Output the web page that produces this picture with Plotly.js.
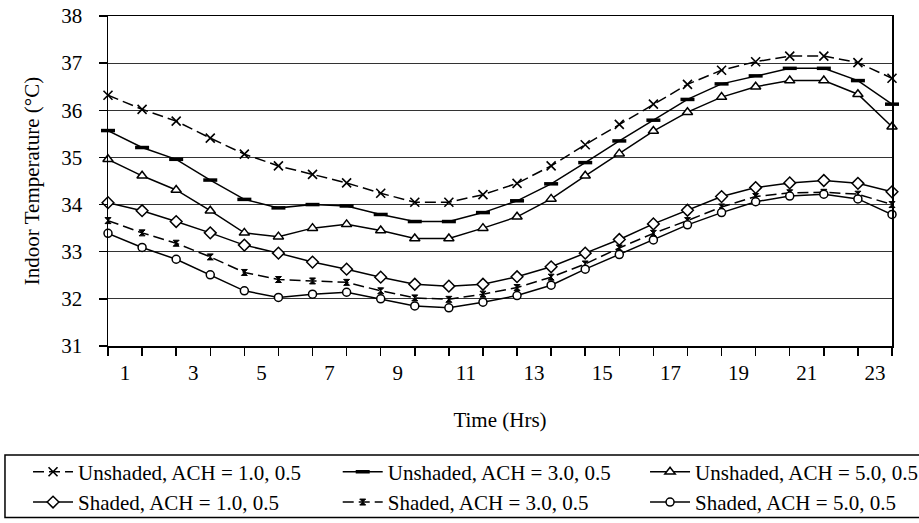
<!DOCTYPE html>
<html>
<head>
<meta charset="utf-8">
<script src="https://cdn.plot.ly/plotly-3.0.1.min.js"></script>
<style>html,body{margin:0;padding:0;background:#fff;overflow:hidden;}#chart{width:919px;height:523px;}</style>
</head>
<body>
<div id="chart"></div>
<script>
// 24 hourly points (tick marks), labels sit between marks as in the original
const hours = [0,1,2,3,4,5,6,7,8,9,10,11,12,13,14,15,16,17,18,19,20,21,22,23];
const tickLabels = ['1','3','5','7','9','11','13','15','17','19','21','23'];

const seriesNames = [
  'Unshaded, ACH = 1.0, 0.5',
  'Unshaded, ACH = 3.0, 0.5',
  'Unshaded, ACH = 5.0, 0.5',
  'Shaded, ACH = 1.0, 0.5',
  'Shaded, ACH = 3.0, 0.5',
  'Shaded, ACH = 5.0, 0.5'
];

const unshaded10 = [36.32,36.02,35.77,35.41,35.07,34.82,34.64,34.46,34.24,34.05,34.05,34.21,34.45,34.82,35.27,35.70,36.13,36.55,36.85,37.03,37.15,37.15,37.01,36.68];
const unshaded30 = [35.57,35.21,34.96,34.52,34.11,33.93,34.00,33.97,33.79,33.64,33.64,33.83,34.08,34.44,34.89,35.35,35.79,36.23,36.56,36.73,36.89,36.89,36.63,36.13];
const unshaded50 = [34.96,34.61,34.31,33.87,33.40,33.32,33.50,33.58,33.45,33.28,33.28,33.50,33.74,34.12,34.61,35.08,35.56,35.96,36.28,36.50,36.63,36.63,36.34,35.65];
const shaded10   = [34.04,33.87,33.64,33.40,33.14,32.97,32.78,32.63,32.46,32.31,32.27,32.31,32.47,32.68,32.97,33.26,33.59,33.88,34.17,34.36,34.46,34.51,34.45,34.27];
const shaded30   = [33.66,33.40,33.18,32.89,32.56,32.41,32.38,32.35,32.17,32.02,31.99,32.10,32.24,32.46,32.74,33.08,33.39,33.66,33.95,34.17,34.25,34.26,34.22,34.00];
const shaded50   = [33.39,33.09,32.84,32.51,32.17,32.03,32.10,32.14,32.00,31.85,31.81,31.93,32.07,32.29,32.63,32.94,33.25,33.57,33.83,34.06,34.18,34.22,34.12,33.79];

const seriesValues = [unshaded10, unshaded30, unshaded50, shaded10, shaded30, shaded50];
// legend column for each series (three columns, two rows)
const legendOf = ['legend', 'legend2', 'legend3', 'legend', 'legend2', 'legend3'];

const styles = [
  {dash:'11px,5px', marker:{symbol:'x-thin', size:9, color:'black', line:{color:'black', width:1.6}}},
  {dash:'solid', marker:{symbol:'line-ew', size:10, color:'black', line:{color:'black', width:3.5}}},
  {dash:'solid', marker:{symbol:'triangle-up', size:9, color:'white', line:{color:'black', width:1.5}}},
  {dash:'solid', marker:{symbol:'diamond', size:9, color:'white', line:{color:'black', width:1.5}}},
  {dash:'11px,5px', marker:{symbol:'hourglass', size:6, color:'black', line:{color:'black', width:1}}},
  {dash:'solid', marker:{symbol:'circle', size:8, color:'white', line:{color:'black', width:1.5}}}
];

const traces = seriesValues.map((vals, i) => ({
  type: 'scatter',
  mode: 'lines+markers',
  x: hours,
  y: vals,
  name: seriesNames[i],
  legend: legendOf[i],
  line: {color: 'black', width: 1.5, dash: styles[i].dash},
  marker: styles[i].marker,
  cliponaxis: false
}));

const labelPos = tickLabels.map(t => Number(t) - 0.5);
const fam = 'Liberation Serif, Times New Roman, serif';
const font = {family: fam, size: 21, color: 'black'};
const legFont = {family: fam, size: 21, color: 'black'};

function legendAt(x) {
  return {
    orientation: 'v', x: x, xanchor: 'left', y: -0.32, yanchor: 'top',
    borderwidth: 0, bgcolor: 'rgba(0,0,0,0)', font: legFont, itemwidth: 40, tracegroupgap: 0
  };
}

const layout = {
  width: 919, height: 523,
  margin: {l: 108, r: 27, t: 16, b: 177, autoexpand: false},
  paper_bgcolor: 'white', plot_bgcolor: 'white',
  font: font,
  showlegend: true,
  xaxis: {
    range: [0, 23],
    tickmode: 'array', tickvals: labelPos, ticktext: tickLabels,
    ticks: '', showgrid: false, zeroline: false,
    showline: true, linecolor: 'black', linewidth: 1.5, mirror: true,
    minor: {tickmode: 'array', tickvals: hours, ticks: 'outside', ticklen: 8, tickcolor: 'black', tickwidth: 1.5, showgrid: false},
    tickfont: font, ticklabelstandoff: 7,
    title: {text: 'Time (Hrs)', font: font, standoff: 28}
  },
  yaxis: {
    range: [31, 38], dtick: 1, tick0: 31,
    ticks: 'outside', ticklen: 8, tickcolor: 'black', tickwidth: 1.5,
    showgrid: true, gridcolor: '#333', gridwidth: 1.2,
    zeroline: false, showline: true, linecolor: 'black', linewidth: 1.5, mirror: true,
    tickfont: font, ticklabelstandoff: 12,
    title: {text: 'Indoor Temperature (°C)', font: font, standoff: 16}
  },
  legend: legendAt(-0.102),
  legend2: legendAt(0.293),
  legend3: legendAt(0.685),
  shapes: [{
    type: 'rect', xref: 'paper', yref: 'paper',
    x0: -0.1314, x1: 1.05, y0: -0.3303, y1: -0.5195,
    line: {color: 'black', width: 1.5}, fillcolor: 'rgba(0,0,0,0)', layer: 'above'
  }]
};

Plotly.newPlot('chart', traces, layout, {displayModeBar: false, staticPlot: true});
</script>
</body>
</html>
